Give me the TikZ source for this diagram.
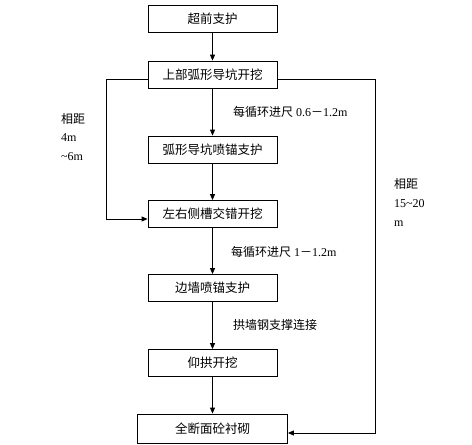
\documentclass[tikz,border=0pt]{standalone}
\usepackage{fontspec}
\setmainfont{Liberation Serif}
\newfontfamily\cjk{Noto Sans CJK SC}
\usetikzlibrary{arrows.meta}
\begin{document}
\begin{tikzpicture}[x=1pt,y=-1pt,
  stepbox/.style={draw,line width=0.8pt,minimum height=27pt,inner sep=0pt,font=\cjk\fontsize{12.5}{14}\selectfont},
  conn/.style={line width=0.8pt,-{Triangle[length=6pt,width=5pt]}},
  lbl/.style={font=\fontsize{12}{14}\selectfont,inner sep=0pt,anchor=west}]
\useasboundingbox (0,0) rectangle (472,445);
\node[stepbox,minimum width=129pt] (b1) at (212.5,18.5) {超前支护};
\node[stepbox,minimum width=129pt] (b2) at (212.5,74.5) {上部弧形导坑开挖};
\node[stepbox,minimum width=129pt] (b3) at (212.5,149.5) {弧形导坑喷锚支护};
\node[stepbox,minimum width=129pt] (b4) at (212.5,214) {左右侧槽交错开挖};
\node[stepbox,minimum width=129pt] (b5) at (212.5,288) {边墙喷锚支护};
\node[stepbox,minimum width=129pt] (b6) at (212.5,363) {仰拱开挖};
\node[stepbox,minimum width=150pt,minimum height=29pt] (b7) at (212.5,428.5) {全断面砼衬砌};
\draw[conn] (b1) -- (b2);
\draw[conn] (b2) -- (b3);
\draw[conn] (b3) -- (b4);
\draw[conn] (b4) -- (b5);
\draw[conn] (b5) -- (b6);
\draw[conn] (b6) -- (b7);
\coordinate (l1) at (106,79);
\coordinate (r1) at (375,79);
\draw[conn] (b2.west |- l1) -- (l1) |- (b4.west |- 0,219);
\draw[conn] (b2.east |- r1) -- (r1) |- (b7.east |- 0,433);
\node[lbl] (t1) at (233,112) {{\cjk 每循环进尺} 0.6{\cjk －}1.2m};
\node[lbl] (t2) at (231,252) {{\cjk 每循环进尺} 1{\cjk －}1.2m};
\node[lbl] (t3) at (233,325) {\cjk 拱墙钢支撑连接};
\node[lbl,align=left,anchor=north west,font=\fontsize{12}{18.5}\selectfont] (t4) at (61,113) {{\cjk 相距}\\4m\\\textasciitilde6m};
\node[lbl,align=left,anchor=north west,font=\fontsize{12}{19}\selectfont] (t5) at (394,178) {{\cjk 相距}\\15\textasciitilde20\\m};
\end{tikzpicture}
\end{document}
